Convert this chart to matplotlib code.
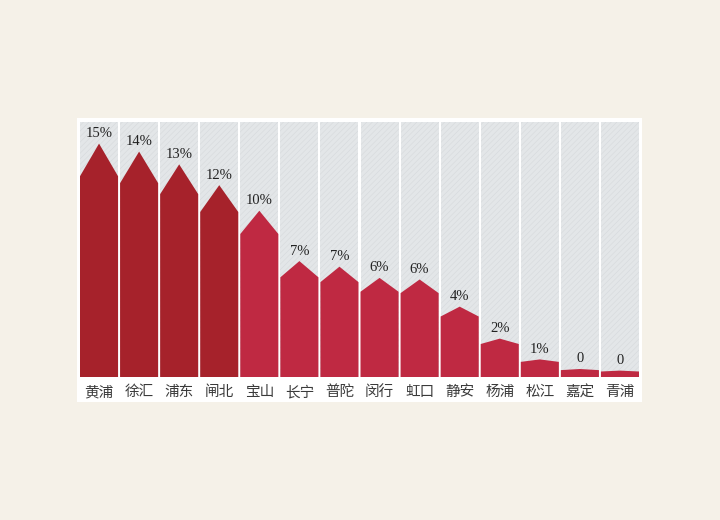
import matplotlib
matplotlib.use('Agg')
import matplotlib.pyplot as plt
from matplotlib.patches import Polygon, Rectangle

plt.rcParams['hatch.linewidth'] = 0.4

# data
districts = ['黄浦', '徐汇', '浦东', '闸北', '宝山', '长宁', '普陀',
             '闵行', '虹口', '静安', '杨浦', '松江', '嘉定', '青浦']
shares = [14.6, 14.1, 13.3, 12.0, 10.4, 7.25, 6.9, 6.2, 6.1, 4.4, 2.4, 1.1, 0.5, 0.4]
labels = ['15%', '14%', '13%', '12%', '10%', '7%', '7%', '6%', '6%', '4%',
          '2%', '1%', '0', '0']
n_dark = 4

fig = plt.figure(figsize=(7.2, 5.2), dpi=100)
fig.patch.set_facecolor('#f5f1e8')

# white panel behind the chart
fig.patches.append(Rectangle((77 / 720, (520 - 402) / 520), 565 / 720, 284 / 520,
                             transform=fig.transFigure, facecolor='white',
                             edgecolor='none', zorder=-5))

ax = fig.add_axes([79 / 720, (520 - 377) / 520, 561 / 720, 255 / 520])
ax.set_facecolor('none')
ax.set_zorder(1)
ymax = 15.95
ax.set_xlim(-0.5, len(districts) - 0.5)
ax.set_ylim(0, ymax)

w = 0.95
shoulder = 0.86
for i, (v, lab) in enumerate(zip(shares, labels)):
    # gray column
    ax.add_patch(Rectangle((i - w / 2, 0), w, ymax, facecolor='#e3e6e8',
                           edgecolor='#d6d9dc', hatch='//////', linewidth=0, zorder=1))
    color = '#a6222b' if i < n_dark else '#bf2942'
    pts = [(i - w / 2, 0), (i - w / 2, v * shoulder), (i, v),
           (i + w / 2, v * shoulder), (i + w / 2, 0)]
    ax.add_patch(Polygon(pts, closed=True, facecolor=color, edgecolor='none', zorder=2))
    ax.text(i, v + 0.22, lab, ha='center', va='bottom', fontsize=10.5,
            family='Liberation Serif', color='#222222', zorder=3)

ax.set_xticks(range(len(districts)))
ax.set_xticklabels(districts, family=['Noto Sans CJK SC', 'DejaVu Sans'],
                   fontsize=10.5, color='#3a3a3a')
ax.tick_params(axis='x', length=0, pad=6)
ax.set_yticks([])
for s in ax.spines.values():
    s.set_visible(False)

fig.savefig('out.png', dpi=100, facecolor=fig.get_facecolor())
